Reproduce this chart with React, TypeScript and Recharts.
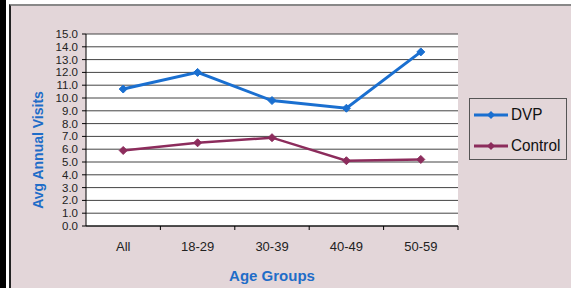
import React from "react"
import { LineChart, Line, XAxis, YAxis, CartesianGrid, Legend } from "recharts"

// age groups along the x axis
const ageGroups = ["All", "18-29", "30-39", "40-49", "50-59"]
// average annual visits per group
const dvpVisits = [10.7, 12.0, 9.8, 9.2, 13.6]
const controlVisits = [5.9, 6.5, 6.9, 5.1, 5.2]
const yTicks = [0, 1, 2, 3, 4, 5, 6, 7, 8, 9, 10, 11, 12, 13, 14, 15]
const seriesOrder = ["DVP", "Control"]

const data = ageGroups.map((g, i) => ({ group: g, dvp: dvpVisits[i], control: controlVisits[i] }))

const FONT = "'Liberation Sans', Arial, sans-serif"
const BLUE = "#1a6fd0"
const MAROON = "#8c2c5c"
const TITLE_BLUE = "#1f6dc8"
const PINK = "#e3d6d9"

const W = 571
const H = 288
const M = { top: 34, right: 113, bottom: 32, left: 46 }

const Diamond = (props: any) => {
  const { cx, cy, stroke } = props
  if (cx == null || cy == null) return null
  const s = 4
  return <polygon points={`${cx},${cy - s} ${cx + s},${cy} ${cx},${cy + s} ${cx - s},${cy}`} fill={stroke} stroke={stroke} />
}

const XTick = (props: any) => {
  const { x, y, payload } = props
  const band = (W - M.left - 40 - M.right) / ageGroups.length
  const half = typeof payload?.offset === "number" && payload.offset > 0 ? payload.offset : band / 2
  return (
    <g>
      <line x1={x + half} x2={x + half} y1={y} y2={y + 4} stroke="#000" />
      <text x={x} y={y + 25} textAnchor="middle" fontSize={13} fill="#222" fontFamily={FONT}>
        {payload.value}
      </text>
    </g>
  )
}

const LegendBox = (props: any) => {
  const items = [...(props.payload || [])].sort(
    (a: any, b: any) => seriesOrder.indexOf(a.value) - seriesOrder.indexOf(b.value)
  )
  return (
    <div
      style={{
        width: 96,
        height: 60,
        border: "1px solid #555",
        background: PINK,
        fontFamily: FONT,
        fontSize: 17,
        color: "#111",
        boxSizing: "content-box",
      }}
    >
      {items.map((it: any, i: number) => (
        <div key={i} style={{ display: "flex", alignItems: "center", height: 31, paddingLeft: 4 }}>
          <svg width={34} height={10} style={{ marginRight: 3 }}>
            <line x1={0} x2={34} y1={5} y2={5} stroke={it.color} strokeWidth={3} />
            <polygon points="17,1 21,5 17,9 13,5" fill={it.color} />
          </svg>
          <span style={{ display: "inline-block", transform: "scaleX(0.9)", transformOrigin: "left center", whiteSpace: "nowrap" }}>
            {it.value}
          </span>
        </div>
      ))}
    </div>
  )
}

export default function App() {
  return (
    <div style={{ position: "fixed", left: 0, top: 0, width: W, height: H, background: "#fff", overflow: "hidden" }}>
      <div style={{ position: "absolute", left: 0, top: 0, width: 6, height: H, background: "#000" }} />
      <div
        style={{
          position: "absolute",
          left: 9,
          top: 4,
          width: W - 9,
          height: H - 4,
          background: PINK,
          borderLeft: "2px solid #222",
          borderTop: "2px solid #888",
          boxSizing: "border-box",
        }}
      />
      <div style={{ position: "absolute", left: 0, top: 0 }}>
        <LineChart width={W} height={H} data={data} margin={M}>
          <CartesianGrid horizontal vertical={false} fill="#fff" stroke="#444" fillOpacity={1} />
          <XAxis
            dataKey="group"
            scale="band"
            height={30}
            interval={0}
            tickLine={false}
            tickSize={0}
            tickMargin={0}
            axisLine={{ stroke: "#000" }}
            tick={<XTick />}
            label={{
              content: (p: any) => {
                const vb = p.viewBox || { x: M.left + 40, width: 372, y: 226 }
                return (
                  <text x={vb.x + vb.width / 2} y={281} textAnchor="middle" fontSize={15} fontWeight="bold" fill={TITLE_BLUE} fontFamily={FONT}>
                    Age Groups
                  </text>
                )
              },
            }}
          />
          <YAxis
            width={40}
            domain={[0, 15]}
            ticks={yTicks}
            interval={0}
            tickFormatter={(v: number) => v.toFixed(1)}
            tickSize={4}
            tickMargin={4}
            tickLine={{ stroke: "#000" }}
            axisLine={{ stroke: "#000" }}
            tick={{ fontSize: 11.5, fill: "#222", fontFamily: FONT }}
            label={{
              content: () => (
                <text
                  x={38}
                  y={150}
                  transform="rotate(-90 38 150)"
                  textAnchor="middle"
                  dominantBaseline="central"
                  fontSize={14}
                  fontWeight="bold"
                  fill={TITLE_BLUE}
                  fontFamily={FONT}
                >
                  Avg Annual Visits
                </text>
              ),
            }}
          />
          <YAxis yAxisId="r" orientation="right" width={0} tick={false} tickLine={false} axisLine={{ stroke: "#888" }} />
          <Legend
            layout="vertical"
            align="center"
            verticalAlign="middle"
            wrapperStyle={{ left: 469, top: 98, width: 98, height: 62 }}
            content={<LegendBox />}
          />
          <Line
            dataKey="dvp"
            name="DVP"
            stroke={BLUE}
            strokeWidth={3}
            type="linear"
            dot={<Diamond />}
            activeDot={false}
            isAnimationActive={false}
          />
          <Line
            dataKey="control"
            name="Control"
            stroke={MAROON}
            strokeWidth={2.5}
            type="linear"
            dot={<Diamond />}
            activeDot={false}
            isAnimationActive={false}
          />
        </LineChart>
      </div>
    </div>
  )
}
